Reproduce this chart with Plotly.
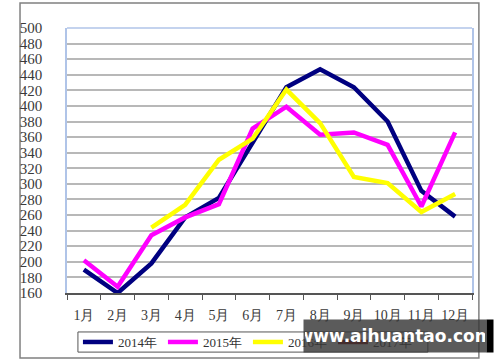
import plotly.graph_objects as go

months = ["1月", "2月", "3月", "4月", "5月", "6月", "7月", "8月", "9月", "10月", "11月", "12月"]
y2014 = [190, 160, 198, 257, 282, 352, 424, 447, 424, 380, 291, 258]
y2015 = [202, 168, 234, 257, 274, 371, 399, 363, 366, 350, 271, 366]
y2016 = [None, None, 244, 273, 331, 358, 421, 378, 309, 301, 264, 287]
y2017 = [None] * 12
series = [("2014年", y2014, "#000080"), ("2015年", y2015, "#FF00FF"),
          ("2016年", y2016, "#FFFF00"), ("2017年", y2017, "#800000")]

fig = go.Figure()
for name, ys, col in series:
    fig.add_trace(go.Scatter(x=months, y=ys, name=name, mode="lines",
                             line=dict(color=col, width=4.5), connectgaps=False))

serif = "Liberation Serif, Times New Roman, serif"
fig.update_layout(
    width=500, height=362,
    margin=dict(l=67, r=28, t=28, b=69, autoexpand=False),
    paper_bgcolor="white", plot_bgcolor="white",
    font=dict(family=serif, size=14, color="#3a3a3a"),
    showlegend=True,
    legend=dict(orientation="h", x=0.027, y=-0.185, xanchor="left", yanchor="middle",
                borderwidth=0, bgcolor="rgba(255,255,255,0)",
                font=dict(family=serif, size=13, color="#333"),
                entrywidth=40, entrywidthmode="pixels", itemwidth=30, tracegroupgap=0),
    xaxis=dict(type="category", range=[-0.5, 11.5], showgrid=False, automargin=False,
               showline=True, linecolor="#555555", linewidth=1.5, tickangle=0,
               ticks="outside", tickson="boundaries", ticklen=5, tickcolor="#555555",
               ticklabelstandoff=8,
               tickfont=dict(family=serif, size=14, color="#3a3a3a"), fixedrange=True),
    yaxis=dict(range=[160, 500], dtick=20, tick0=160, showgrid=True, gridcolor="#b8b8b8", gridwidth=1.5,
               showline=True, linecolor="#b0c4e8", linewidth=1.5, mirror=True, automargin=False,
               ticks="", ticklabelstandoff=20, tickfont=dict(family=serif, size=15, color="#3a3a3a"),
               zeroline=False, fixedrange=True),
)
# top border of plot area
fig.add_shape(type="line", xref="paper", yref="paper", x0=0, x1=1, y0=1, y1=1,
              line=dict(color="#b0c4e8", width=1.5))
# outer frame
fig.add_shape(type="rect", xref="paper", yref="paper", x0=-0.116, x1=1.017, y0=-0.245, y1=1.094,
              line=dict(color="#808080", width=1.5), layer="below")
# legend box
fig.add_shape(type="rect", xref="paper", yref="paper", x0=0.027, x1=0.891, y0=-0.223, y1=-0.147,
              line=dict(color="#555555", width=1), layer="below")
# watermark (annotation so it sits above the legend)
fig.add_annotation(text="<b>www.aihuantao.com</b>", xref="paper", yref="paper", x=0.583, y=-0.098,
                   xanchor="left", yanchor="top", showarrow=False, width=180, height=30,
                   bgcolor="rgba(55,55,55,0.82)", borderpad=1, align="center", valign="middle",
                   font=dict(family="DejaVu Sans, sans-serif", size=17, color="white"))
fig.add_annotation(text="", xref="paper", yref="paper", x=1.035, y=-0.098,
                   xanchor="left", yanchor="top", showarrow=False, width=4, height=30,
                   bgcolor="black", borderpad=1)

fig.write_html("out.html", config={"displayModeBar": False},
               post_script="document.body.style.margin='0';document.body.style.overflow='hidden';")
